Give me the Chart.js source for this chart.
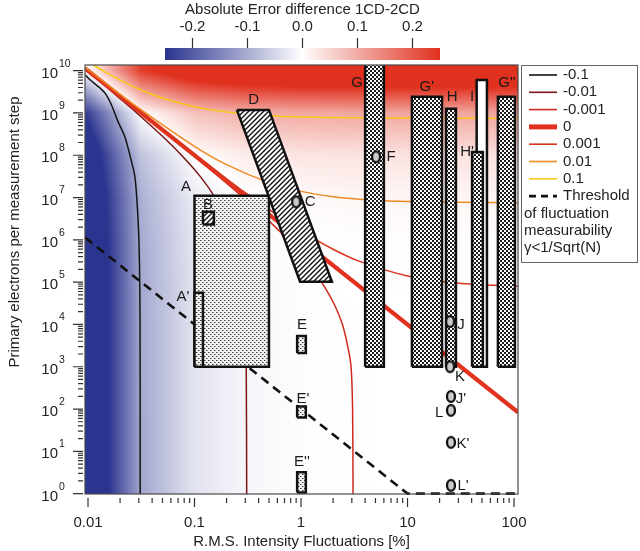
<!DOCTYPE html>
<html><head><meta charset="utf-8">
<script src="https://cdn.jsdelivr.net/npm/chart.js@4.4.1/dist/chart.umd.min.js"></script>
<style>html,body{margin:0;padding:0;background:#fff;}#wrap{position:relative;width:640px;height:551px;}</style>
</head><body><div id="wrap"><canvas id="c" width="640" height="551"></canvas></div>
<script>
// ---------------- DATA ----------------
const xTickValues = [0.01, 0.1, 1, 10, 100];
const xTickLabels = ['0.01', '0.1', '1', '10', '100'];
const yTickExponents = [0,1,2,3,4,5,6,7,8,9,10];
const minorMultipliers = [2,3,4,5,6,7,8,9];
const xRange = [0.00937, 109];
const yRange = [0.98, 1.36e10];

const colorbarTicks = [-0.2, -0.1, 0, 0.1, 0.2];
const colorbarLabels = ['-0.2', '-0.1', '0.0', '0.1', '0.2'];
const colorbarRange = [-0.25, 0.25];

// error-difference field, rows = log10(N), columns = log10(gamma %)
const heatLogX = [-2, -1.5, -1, -0.5, 0, 0.5, 1, 1.5, 2];
const heatLogN = [0,1,2,3,4,5,6,7,8,9,10];
const heatValues = [
  [-0.340,-0.108,-0.034,-0.011,-0.003,-0.001,0.000,0.000,0.000],
  [-0.340,-0.108,-0.034,-0.011,-0.003,-0.001,0.000,0.000,0.000],
  [-0.340,-0.107,-0.034,-0.011,-0.003,-0.001,0.000,0.000,0.000],
  [-0.340,-0.107,-0.034,-0.011,-0.003,-0.001,0.000,0.000,0.000],
  [-0.340,-0.107,-0.034,-0.010,-0.003,-0.001,0.000,0.000,0.000],
  [-0.339,-0.106,-0.033,-0.010,-0.002,0.000,0.001,0.001,0.001],
  [-0.337,-0.104,-0.031,-0.007,0.000,0.002,0.003,0.003,0.003],
  [-0.329,-0.097,-0.023,0.000,0.007,0.010,0.010,0.011,0.011],
  [-0.306,-0.074,0.000,0.023,0.031,0.033,0.034,0.034,0.034],
  [-0.233,0.000,0.074,0.097,0.104,0.106,0.107,0.107,0.107],
  [0.000,0.233,0.306,0.329,0.337,0.339,0.340,0.340,0.340]
];

// contour lines (gamma %, N)
const contourM01X = [0.0094,0.0105,0.0125,0.0145,0.0165,0.019,0.0222,0.025,0.0276,0.0295,0.0304,0.0308,0.0309];
const contourM01Y = [8.0e9,6.0e9,4.2e9,2.9e9,1.6e9,6.5e8,2.7e8,9e7,3e7,3e6,3e5,1e4,0.9];
const contourM001X = [0.0094,0.0125,0.0172,0.0287,0.0486,0.0755,0.115,0.156,0.201,0.236,0.264,0.281,0.299,0.306,0.309];
const contourM001Y = [1.06e10,6e9,3e9,1e9,3e8,1e8,3e7,1e7,3e6,1e6,3e5,1e5,1e4,1e3,0.9];
const contourM0001X = [0.0094,0.0313,0.0969,0.287,0.486,0.755,1.15,1.56,2.05,2.45,2.75,2.95,3.05,3.08];
const contourM0001Y = [1.12e10,1e9,1e8,1e7,3e6,1e6,3e5,1e5,3e4,1e4,3e3,1e3,1e2,0.9];
const contourZeroX = [0.0094, 109];
const contourZeroY = [1.13e10, 84];
const contourP0001X = [0.0094,0.03,0.1,0.3,1,2,3.6,10,30,109];
const contourP0001Y = [1.14e10,1.13e9,1.06e8,1.3e7,1.62e6,6.0e5,3.05e5,1.4e5,9.4e4,8.0e4];
const contourP001X = [0.0094,0.015,0.03,0.1,0.2,0.5,1,2,5,10,30,109];
const contourP001Y = [1.19e10,4.82e9,1.30e9,1.62e8,5.99e7,2.25e7,1.40e7,1.05e7,8.64e6,8.07e6,7.69e6,7.56e6];
const contourP01X = [0.0112,0.015,0.02,0.03,0.05,0.1,0.2,0.5,1,3,10,109];
const contourP01Y = [1.36e10,8.85e9,5.99e9,3.69e9,2.25e9,1.40e9,1.05e9,8.64e8,8.07e8,7.69e8,7.56e8,7.51e8];
const contourLevels = ['-0.1','-0.01','-0.001','0','0.001','0.01','0.1'];

// threshold of fluctuation measurability
const thresholdX = [0.0094, 10, 109];
const thresholdY = [1.13e6, 1, 1];

// rectangular regions
const boxNames = ['A',"A'",'B','E',"E'","E''",'G',"G'",'H','I',"H'","G''"];
const boxX1 = [0.1, 0.1, 0.12, 0.92, 0.92, 0.92, 4.0, 11.0, 23.0, 44.6, 40.4, 70.6];
const boxX2 = [0.5, 0.12, 0.152, 1.11, 1.11, 1.11, 6.0, 21.1, 28.5, 55.7, 51.0, 102];
const boxY1 = [1e3, 1e3, 2.3e6, 2.1e3, 63, 1.07, 1e3, 1e3, 1e3, 1e3, 1e3, 1e3];
const boxY2 = [1.1e7, 5.6e4, 4.6e6, 5.3e3, 115, 3.2, 1e11, 2.4e9, 1.26e9, 6e9, 1.2e8, 2.4e9];
// slanted region D
const dTopX = [0.25, 0.50];
const dTopY = 1.18e9;
const dBottomX = [0.98, 1.95];
const dBottomY = 1.02e5;

// single points
const circleNames = ['C','F','J','K',"J'",'L',"K'","L'"];
const circleX = [0.90, 5.06, 25.1, 25.1, 25.6, 25.6, 25.6, 25.6];
const circleY = [7.9e6, 9.2e7, 1.17e4, 1.0e3, 198, 93, 16.3, 1.57];

// text labels
const labelText = ['A',"A'",'B','C','D','E',"E'","E''",'F','G',"G'",'H','I',"H'","G''",'J','K',"J'",'L',"K'","L'"];
const labelX = [0.083,0.078,0.134,1.22,0.36,1.02,1.04,1.02,7.0,3.36,15.2,26.2,40.4,36.2,86,31.8,31.1,31.8,19.8,33.2,33.2];
const labelY = [1.8e7,4.6e4,6.8e6,7.9e6,2.0e9,1.0e4,178,5.5,9.2e7,5.1e9,4.1e9,2.4e9,2.4e9,1.2e8,5.1e9,1.0e4,590,178,83,15.4,1.5];

// ---------------- STYLE ----------------
const FONT = "'Liberation Sans', Arial, Helvetica, sans-serif";
Chart.defaults.font.family = FONT;
Chart.defaults.font.size = 15;
Chart.defaults.color = '#222';
const BLUE = [43, 52, 143], RED = [224, 48, 30];
const contourColors = ['#141414', '#7a1616', '#cf2a1e', '#e2321f', '#d9361f', '#f08a22', '#f6c818'];
const contourWidths = [1.5, 1.5, 1.5, 4.2, 1.5, 1.5, 1.5];
const boxStyle = {A:'dots',"A'":'dots',B:'hatch',E:'dots',"E'":'dots',"E''":'dots',G:'checker',"G'":'checker',H:'checker',I:'white',"H'":'checker',"G''":'checker'};

function tile(w, h, draw) {
  const c = document.createElement('canvas'); c.width = w; c.height = h;
  const g = c.getContext('2d'); draw(g, w, h);
  return document.getElementById('c').getContext('2d').createPattern(c, 'repeat');
}
const patterns = {
  checker: tile(4, 4, (g) => { g.fillStyle = '#fff'; g.fillRect(0,0,4,4); g.fillStyle = '#1c1c1c'; g.fillRect(0,0,2,2); g.fillRect(2,2,2,2); }),
  dots: tile(4, 4, (g) => { g.fillStyle = '#f2f2f2'; g.fillRect(0,0,4,4); g.fillStyle = '#3a3a3a'; g.fillRect(0,0,1,1); g.fillRect(2,2,1,1); g.fillStyle = '#9a9a9a'; g.fillRect(1,0,1,1); g.fillRect(3,2,1,1); }),
  hatch: tile(5, 5, (g) => { g.fillStyle = '#fff'; g.fillRect(0,0,5,5); g.strokeStyle = '#111'; g.lineWidth = 1.4; g.beginPath(); g.moveTo(-1,6); g.lineTo(6,-1); g.moveTo(-1,1); g.lineTo(1,-1); g.moveTo(4,6); g.lineTo(6,4); g.stroke(); }),
  white: '#ffffff'
};

function cmap(v) {
  let t = (v - (colorbarRange[0] + colorbarRange[1]) / 2) / ((colorbarRange[1] - colorbarRange[0]) / 2);
  t = Math.max(-1, Math.min(1, t));
  const c = t < 0 ? BLUE : RED, a = Math.abs(t);
  return [255 + (c[0] - 255) * a, 255 + (c[1] - 255) * a, 255 + (c[2] - 255) * a];
}
function locate(arr, v) {
  const n = arr.length;
  if (v <= arr[0]) return [0, 0, 0];
  if (v >= arr[n - 1]) return [n - 1, n - 1, 0];
  let k = 0; while (k < n - 2 && v >= arr[k + 1]) k++;
  return [k, k + 1, (v - arr[k]) / (arr[k + 1] - arr[k])];
}
function heatAt(lx, ly) {
  const [i0, i1, tx] = locate(heatLogX, lx);
  const [j0, j1, ty] = locate(heatLogN, ly);
  const a = heatValues[j0][i0] * (1 - tx) + heatValues[j0][i1] * tx;
  const b = heatValues[j1][i0] * (1 - tx) + heatValues[j1][i1] * tx;
  return a * (1 - ty) + b * ty;
}

// ---------------- DATASETS ----------------
const datasets = [];
function addDs(ds) { ds.order = 1000 - datasets.length; datasets.push(ds); }
const pts = (xs, ys) => xs.map((x, i) => ({x, y: ys[i]}));

const contourData = [
  pts(contourM01X, contourM01Y), pts(contourM001X, contourM001Y), pts(contourM0001X, contourM0001Y),
  pts(contourZeroX, contourZeroY), pts(contourP0001X, contourP0001Y), pts(contourP001X, contourP001Y), pts(contourP01X, contourP01Y)
];
contourData.forEach((d, i) => addDs({
  label: contourLevels[i], data: d, borderColor: contourColors[i], borderWidth: contourWidths[i],
  pointRadius: 0, fill: false, tension: 0.3, borderCapStyle: 'butt'
}));
addDs({label: 'threshold', data: pts(thresholdX, thresholdY), borderColor: '#111', borderWidth: 2.6,
  borderDash: [9, 6], pointRadius: 0, fill: false, tension: 0, clip: {left: 2, top: 2, right: 2, bottom: 5}});

function addBox(i) {
  const x1 = boxX1[i], x2 = boxX2[i], y1 = boxY1[i], y2 = boxY2[i];
  addDs({label: boxNames[i], data: [{x:x1,y:y1},{x:x2,y:y1},{x:x2,y:y2},{x:x1,y:y2},{x:x1,y:y1}],
    fill: 'shape', backgroundColor: patterns[boxStyle[boxNames[i]]], borderColor: '#111', borderWidth: 2.5,
    borderJoinStyle: 'miter', pointRadius: 0, tension: 0});
}
addBox(0); addBox(1); addBox(2);
addDs({label: 'D', data: [{x:dTopX[0],y:dTopY},{x:dTopX[1],y:dTopY},{x:dBottomX[1],y:dBottomY},{x:dBottomX[0],y:dBottomY},{x:dTopX[0],y:dTopY}],
  fill: 'shape', backgroundColor: patterns.hatch, borderColor: '#111', borderWidth: 2.5, borderJoinStyle: 'miter', pointRadius: 0, tension: 0});
for (let i = 3; i < boxNames.length; i++) addBox(i);

const ell = document.createElement('canvas'); ell.width = 12; ell.height = 15;
(function(){ const e = ell.getContext('2d'); e.beginPath(); e.ellipse(6, 7.5, 4.0, 5.4, 0, 0, 2 * Math.PI);
  e.fillStyle = '#cccccc'; e.fill(); e.lineWidth = 2.3; e.strokeStyle = '#111'; e.stroke(); })();
addDs({label: 'points', data: pts(circleX, circleY), showLine: false, pointStyle: ell, pointRadius: 6, pointHoverRadius: 6});

// ---------------- PLUGINS ----------------
const heatPlugin = {
  id: 'heat',
  beforeDatasetsDraw(chart) {
    const {ctx, chartArea: ca, scales: {x: xs, y: ys}} = chart;
    const L = Math.round(ca.left), T = Math.round(ca.top);
    const W = Math.round(ca.right) - L, H = Math.round(ca.bottom) - T;
    const img = ctx.createImageData(W, H);
    const lxs = [];
    for (let i = 0; i < W; i++) lxs.push(Math.log10(xs.getValueForPixel(L + i + 0.5)));
    for (let j = 0; j < H; j++) {
      const ly = Math.log10(ys.getValueForPixel(T + j + 0.5));
      for (let i = 0; i < W; i++) {
        const c = cmap(heatAt(lxs[i], ly)); const k = (j * W + i) * 4;
        img.data[k] = c[0]; img.data[k+1] = c[1]; img.data[k+2] = c[2]; img.data[k+3] = 255;
      }
    }
    ctx.putImageData(img, L, T);
  }
};

const decoPlugin = {
  id: 'deco',
  afterDatasetsDraw(chart) {
    const {ctx, chartArea: ca, scales: {x: xs, y: ys}} = chart;
    ctx.save();
    // letters
    ctx.fillStyle = '#1a1a1a'; ctx.font = '15px ' + FONT; ctx.textAlign = 'center'; ctx.textBaseline = 'middle';
    labelText.forEach((t, i) => ctx.fillText(t, xs.getPixelForValue(labelX[i]), ys.getPixelForValue(labelY[i])));
    // frame
    ctx.strokeStyle = '#4a4a4a'; ctx.lineWidth = 1.2;
    ctx.strokeRect(ca.left, ca.top, ca.right - ca.left, ca.bottom - ca.top);
    // ticks
    ctx.strokeStyle = '#333'; ctx.lineWidth = 1.2; ctx.beginPath();
    xTickValues.forEach((v, k) => {
      const px = xs.getPixelForValue(v); ctx.moveTo(px, ca.bottom + 4); ctx.lineTo(px, ca.bottom + 13);
      if (k < xTickValues.length - 1) minorMultipliers.forEach(m => {
        const q = xs.getPixelForValue(v * m); ctx.moveTo(q, ca.bottom + 4); ctx.lineTo(q, ca.bottom + 9);
      });
    });
    yTickExponents.forEach((e, k) => {
      const py = ys.getPixelForValue(Math.pow(10, e)); ctx.moveTo(ca.left - 12, py); ctx.lineTo(ca.left - 2, py);
      if (k < yTickExponents.length - 1) minorMultipliers.forEach(m => {
        const q = ys.getPixelForValue(m * Math.pow(10, e)); ctx.moveTo(ca.left - 7, q); ctx.lineTo(ca.left - 2, q);
      });
    });
    ctx.stroke();
    // y labels with superscripts
    ctx.fillStyle = '#222'; ctx.textBaseline = 'middle';
    yTickExponents.forEach(e => {
      const py = ys.getPixelForValue(Math.pow(10, e));
      ctx.font = '15px ' + FONT; ctx.textAlign = 'right'; ctx.fillText('10', 58, py + 3);
      ctx.font = '10.5px ' + FONT; ctx.textAlign = 'left'; ctx.fillText(String(e), 59, py - 7);
    });
    // y title
    ctx.save(); ctx.translate(15, 232); ctx.rotate(-Math.PI / 2);
    ctx.font = '15px ' + FONT; ctx.textAlign = 'center'; ctx.fillText('Primary electrons per measurement step', 0, 0);
    ctx.restore();
    ctx.restore();
  },
  afterDraw(chart) {
    const ctx = chart.ctx;
    ctx.save();
    // colorbar
    const x0 = 165, x1 = 440, y0 = 48, y1 = 60;
    for (let px = x0; px < x1; px++) {
      const v = colorbarRange[0] + (px - x0 + 0.5) / (x1 - x0) * (colorbarRange[1] - colorbarRange[0]);
      const c = cmap(v); ctx.fillStyle = `rgb(${c[0]|0},${c[1]|0},${c[2]|0})`; ctx.fillRect(px, y0, 1, y1 - y0);
    }
    ctx.strokeStyle = '#333'; ctx.lineWidth = 1.2; ctx.beginPath();
    ctx.font = '15px ' + FONT; ctx.fillStyle = '#222'; ctx.textAlign = 'center'; ctx.textBaseline = 'middle';
    colorbarTicks.forEach((v, i) => {
      const px = x0 + (v - colorbarRange[0]) / (colorbarRange[1] - colorbarRange[0]) * (x1 - x0);
      ctx.moveTo(px, 38); ctx.lineTo(px, y0); ctx.fillText(colorbarLabels[i], px, 27);
    });
    ctx.stroke();
    ctx.fillText('Absolute Error difference 1CD-2CD', (x0 + x1) / 2, 10);
    // legend
    ctx.strokeStyle = '#666'; ctx.lineWidth = 1; ctx.strokeRect(521.5, 65.5, 116, 197);
    ctx.textAlign = 'left';
    const rowY = (i) => 75 + i * 17.3;
    contourLevels.forEach((lab, i) => {
      ctx.strokeStyle = contourColors[i]; ctx.lineWidth = i === 3 ? 5 : 1.6; ctx.setLineDash([]);
      ctx.beginPath(); ctx.moveTo(529, rowY(i)); ctx.lineTo(557, rowY(i)); ctx.stroke();
      ctx.fillStyle = '#222'; ctx.fillText(lab, 563, rowY(i));
    });
    ctx.strokeStyle = '#111'; ctx.lineWidth = 2.6; ctx.setLineDash([7, 5]);
    ctx.beginPath(); ctx.moveTo(529, rowY(7)); ctx.lineTo(557, rowY(7)); ctx.stroke(); ctx.setLineDash([]);
    ctx.fillText('Threshold', 563, rowY(7));
    ctx.fillText('of fluctuation', 524, rowY(8));
    ctx.fillText('measurability', 524, rowY(9));
    ctx.fillText('\u03B3<1/Sqrt(N)', 524, rowY(10));
    ctx.restore();
  }
};

new Chart(document.getElementById('c'), {
  type: 'line',
  data: {datasets},
  options: {
    responsive: false, animation: false, devicePixelRatio: 1,
    layout: {padding: {left: 0, right: 122, top: 65, bottom: 0}},
    plugins: {legend: {display: false}, tooltip: {enabled: false}},
    scales: {
      x: {
        type: 'logarithmic', position: 'bottom', min: xRange[0], max: xRange[1],
        afterBuildTicks: (s) => { s.ticks = xTickValues.map(v => ({value: v})); },
        afterFit: (s) => { s.height = 57; },
        grid: {display: false, drawTicks: false}, border: {display: false},
        ticks: {autoSkip: false, maxRotation: 0, padding: 20, color: '#222', font: {size: 15},
          callback: (v, i) => xTickLabels[i]},
        title: {display: true, text: 'R.M.S. Intensity Fluctuations [%]', color: '#222', font: {size: 15}, padding: {top: 0, bottom: 0}}
      },
      y: {
        type: 'logarithmic', position: 'left', min: yRange[0], max: yRange[1],
        afterBuildTicks: (s) => { s.ticks = yTickExponents.map(e => ({value: Math.pow(10, e)})); },
        afterFit: (s) => { s.width = 85; },
        grid: {display: false, drawTicks: false}, border: {display: false},
        ticks: {display: false}
      }
    }
  },
  plugins: [heatPlugin, decoPlugin]
});
</script></body></html>
